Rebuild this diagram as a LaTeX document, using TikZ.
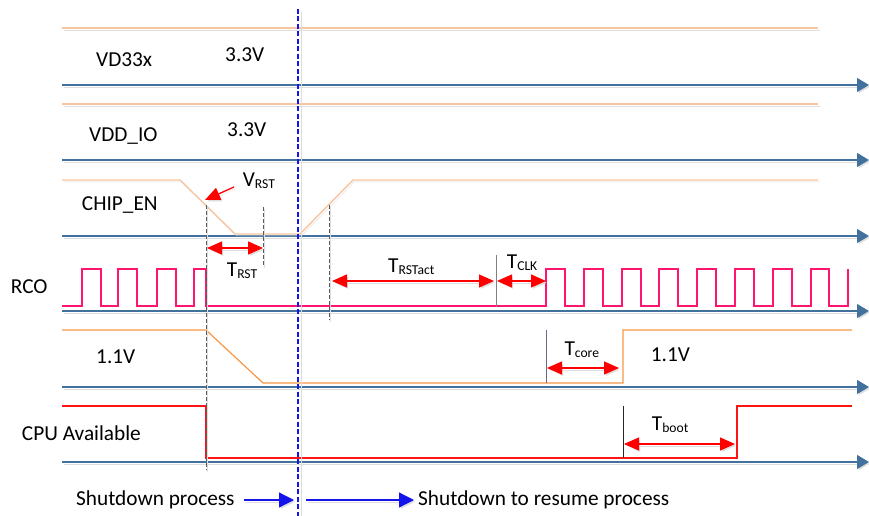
\documentclass[tikz,border=0pt]{standalone}
\usepackage{fontspec}
\setmainfont{Carlito}
\usetikzlibrary{arrows.meta}
\definecolor{axisblue}{RGB}{65,113,156}
\definecolor{paleorange}{RGB}{247,196,160}
\definecolor{coreorange}{RGB}{247,150,70}
\definecolor{rcopink}{RGB}{255,20,110}
\definecolor{cpured}{RGB}{255,20,20}
\definecolor{shadowgray}{RGB}{222,222,222}
\definecolor{dashgray}{RGB}{90,90,90}
\definecolor{markblue}{RGB}{20,20,235}
\newcommand\lowtext[1]{\raisebox{-2pt}{\fontsize{13.6}{14}\selectfont #1}}
\begin{document}
\begin{tikzpicture}[x=1pt,y=-1pt,
  font=\fontsize{21.3}{25}\selectfont,
  lbl/.style={anchor=base west,inner sep=0pt},
  shadowed/.style={preaction={draw=shadowgray,transform canvas={shift={(1.5pt,-1.8pt)}}}},
  axis/.style={draw=axisblue,line width=1.4pt,-{Triangle[length=12pt,width=14pt]},shadowed},
  supply/.style={draw=paleorange,line width=1.4pt,shadowed},
  core/.style={draw=coreorange,line width=1.2pt},
  rco/.style={draw=rcopink,line width=1.1pt},
  cpu/.style={draw=cpured,line width=1.2pt},
  guide/.style={draw=dashgray,line width=0.9pt,dash pattern=on 4pt off 2pt,shadowed},
  dim/.style={draw=red,line width=1.3pt,{Triangle[length=15pt,width=13pt]}-{Triangle[length=15pt,width=13pt]},shadowed},
  pointer/.style={draw=red,line width=1.3pt,-{Triangle[length=15pt,width=13pt]},shadowed},
  flow/.style={draw=markblue,line width=1.2pt,-{Triangle[length=15pt,width=15pt]},shadowed}]
\useasboundingbox (0,0) rectangle (869,516);

% axes
\coordinate (a1s) at (62,85);  \coordinate (a1e) at (869,85);
\coordinate (a2s) at (62,160); \coordinate (a2e) at (869,160);
\coordinate (a3s) at (62,236); \coordinate (a3e) at (869,236);
\coordinate (a4s) at (62,311); \coordinate (a4e) at (869,311);
\coordinate (a5s) at (62,387); \coordinate (a5e) at (869,387);
\coordinate (a6s) at (62,462); \coordinate (a6e) at (869,462);
\foreach \i in {1,...,6} \draw[axis] (a\i s) -- (a\i e);

% supplies
\draw[supply] (62,28) -- (818,28);
\draw[supply] (62,104) -- (818,104);
\draw[supply] (62,180) -- (180,180) -- (235,234) -- (300,234) -- (353,180) -- (818,180);

% RCO clock
\draw[rco] (62,306) -- (82,306) -- (82,269) -- (101,269) -- (101,306) -- (118,306) -- (118,269) -- (137,269) -- (137,306) -- (157,306) -- (157,269) -- (176,269) -- (176,306) -- (194,306) -- (194,269) -- (206,269) -- (206,306) -- (546,306) -- (546,269) -- (565,269) -- (565,306) -- (584,306) -- (584,269) -- (603,269) -- (603,306) -- (622,306) -- (622,269) -- (641,269) -- (641,306) -- (659,306) -- (659,269) -- (678,269) -- (678,306) -- (697,306) -- (697,269) -- (716,269) -- (716,306) -- (735,306) -- (735,269) -- (754,269) -- (754,306) -- (773,306) -- (773,269) -- (792,269) -- (792,306) -- (811,306) -- (811,269) -- (829,269) -- (829,306) -- (848,306) -- (848,269);

% 1.1V core
\draw[core] (62,330) -- (206,330) -- (263,383) -- (623,383) -- (623,330) -- (852,330);

% CPU available
\draw[cpu] (62,406) -- (206,406) -- (206,458) -- (737,458) -- (737,406) -- (852,406);

% guides
\draw[guide] (206,205) -- (206,470);
\draw[guide] (263,207) -- (263,266);
\draw[guide] (329,205) -- (329,320);
\draw[draw=shadowgray,line width=1pt] (301,12) -- (301,516);
\draw[draw=markblue,line width=1.1pt,dash pattern=on 5pt off 2.5pt] (298,9) -- (298,516);
\draw[draw=gray,line width=1pt] (496,255) -- (496,307);
\draw[draw={rgb,255:red,110;green,100;blue,140},line width=1pt] (546,330) -- (546,383);
\draw[draw=black!85,line width=0.9pt] (623,406) -- (623,458);

% dimension arrows
\coordinate (trs) at (207,248); \coordinate (tre) at (263,248);
\draw[dim] (trs) -- (tre);
\coordinate (tas) at (332,281); \coordinate (tae) at (494,281);
\draw[dim] (tas) -- (tae);
\coordinate (tcs) at (497,281); \coordinate (tce) at (546,281);
\draw[dim] (tcs) -- (tce);
\coordinate (tks) at (547,368); \coordinate (tke) at (619,368);
\draw[dim] (tks) -- (tke);
\coordinate (tbs) at (624,444); \coordinate (tbe) at (735,444);
\draw[dim] (tbs) -- (tbe);
\coordinate (vrs) at (234,187); \coordinate (vre) at (205,200);
\draw[pointer] (vrs) -- (vre);

% process arrows
\coordinate (p1s) at (244,500); \coordinate (p1e) at (294,500);
\draw[flow] (p1s) -- (p1e);
\coordinate (p2s) at (306,500); \coordinate (p2e) at (414,500);
\draw[flow] (p2s) -- (p2e);

% labels
\node[lbl] (l1) at (96,66.7) {VD33x};
\node[lbl] (v1) at (225,61.7) {3.3V};
\node[lbl] (l2) at (89,141.7) {VDD\_IO};
\node[lbl] (v2) at (227,136) {3.3V};
\node[lbl] (l3) at (81.7,210) {CHIP\_EN};
\node[lbl] (vrst) at (242.7,186) {V\lowtext{RST}};
\node[lbl] (trst) at (226.7,276.7) {T\lowtext{RST}};
\node[lbl] (l4) at (10.7,293.3) {RCO};
\node[lbl] (tract) at (388,272.7) {T\lowtext{RSTact}};
\node[lbl] (tclk) at (506.7,268) {T\lowtext{CLK}};
\node[lbl] (l5) at (96,363) {1.1V};
\node[lbl] (tcore) at (564.3,355) {T\lowtext{core}};
\node[lbl] (v5) at (650.7,361.7) {1.1V};
\node[lbl] (l6) at (21.7,440) {CPU Available};
\node[lbl] (tboot) at (651.7,430) {T\lowtext{boot}};
\node[lbl] (sp) at (76,505) {Shutdown process};
\node[lbl] (sr) at (418,505) {Shutdown to resume process};
\end{tikzpicture}
\end{document}
